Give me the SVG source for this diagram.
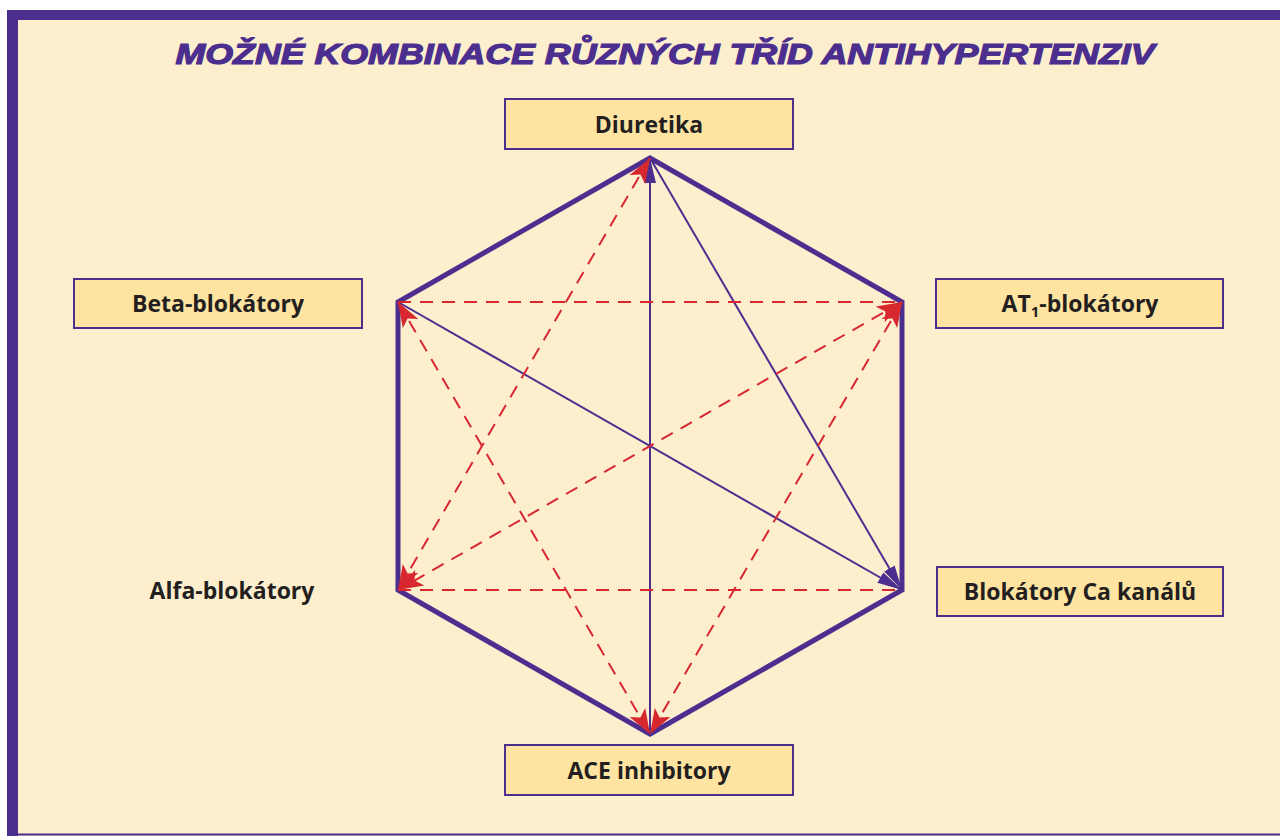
<svg xmlns="http://www.w3.org/2000/svg" width="1280" height="836" viewBox="0 0 1280 836">
<style>
.box{fill:#FFE3A0;stroke:#4B2E8E;stroke-width:2}
.lbl{font-family:"Open Sans","Liberation Sans",sans-serif;font-weight:bold;font-size:23px;fill:#231F20;text-anchor:middle}
.hex{fill:none;stroke:#4B2E8E;stroke-width:5;stroke-linejoin:miter}
.solid{stroke:#4B2E8E;stroke-width:2;fill:none}
.dash{stroke:#D7282F;stroke-width:2;stroke-dasharray:13 9;fill:none}
</style>
<defs>
<marker id="ar" markerUnits="userSpaceOnUse" markerWidth="26" markerHeight="20" viewBox="0 0 26 20" refX="25" refY="10" orient="auto-start-reverse">
<path d="M0,1 L25,10 L0,19 L6,10 Z" fill="#D7282F"/>
</marker>
<marker id="ap" markerUnits="userSpaceOnUse" markerWidth="26" markerHeight="14" viewBox="0 0 26 14" refX="25" refY="7" orient="auto">
<path d="M0,1 L25,7 L0,13 Z" fill="#4B2E8E"/>
</marker>
</defs>
<rect x="0" y="0" width="1280" height="836" fill="#FFFFFF"/>
<g id="frame">
<rect x="7" y="10" width="1273" height="826" fill="#FDEECD"/>
<rect x="7" y="10" width="1273" height="10" fill="#4B2E8E"/>
<rect x="7" y="10" width="11" height="826" fill="#4B2E8E"/>
<rect x="7" y="833.5" width="1273" height="2" fill="#4B2E8E"/>
</g>
<text id="title" x="665" y="64" font-family="Liberation Sans, Arial, sans-serif" font-weight="bold" font-style="italic" font-size="29" fill="#4B2E8E" stroke="#4B2E8E" stroke-width="1.2" text-anchor="middle" textLength="979" lengthAdjust="spacingAndGlyphs">MOŽNÉ KOMBINACE RŮZNÝCH TŘÍD ANTIHYPERTENZIV</text>
<g id="hexagon">
<polygon class="hex" points="650,158 902,302 902,590 650,734 398,590 398,302"/>
</g>
<g id="connectors">
<line class="solid" x1="650" y1="734" x2="650" y2="158" marker-end="url(#ap)"/>
<line class="solid" x1="650" y1="158" x2="902" y2="590" marker-end="url(#ap)"/>
<line class="solid" x1="398" y1="302" x2="902" y2="590" marker-end="url(#ap)"/>
<line class="dash" x1="398" y1="302" x2="902" y2="302"/>
<line class="dash" x1="398" y1="590" x2="902" y2="590"/>
<line class="dash" x1="650" y1="158" x2="398" y2="590" marker-start="url(#ar)" marker-end="url(#ar)"/>
<line class="dash" x1="398" y1="302" x2="650" y2="734" marker-start="url(#ar)" marker-end="url(#ar)"/>
<line class="dash" x1="902" y1="302" x2="398" y2="590" marker-start="url(#ar)" marker-end="url(#ar)"/>
<line class="dash" x1="902" y1="302" x2="650" y2="734" marker-start="url(#ar)" marker-end="url(#ar)"/>
</g>
<g id="node-diuretika">
<rect class="box" x="505" y="99" width="288" height="50"/>
<text class="lbl" x="649" y="133">Diuretika</text>
</g>
<g id="node-beta">
<rect class="box" x="74" y="279" width="288" height="49"/>
<text class="lbl" x="218" y="312">Beta-blokátory</text>
</g>
<g id="node-at1">
<rect class="box" x="936" y="279" width="287" height="49"/>
<text class="lbl" x="1080" y="312">AT<tspan font-size="15" dy="5">1</tspan><tspan dy="-5">-blokátory</tspan></text>
</g>
<g id="node-alfa">
<text class="lbl" x="232" y="599">Alfa-blokátory</text>
</g>
<g id="node-ca">
<rect class="box" x="937" y="567" width="286" height="49"/>
<text class="lbl" x="1080" y="600">Blokátory Ca kanálů</text>
</g>
<g id="node-ace">
<rect class="box" x="505" y="745" width="288" height="50"/>
<text class="lbl" x="649" y="779">ACE inhibitory</text>
</g>
</svg>
